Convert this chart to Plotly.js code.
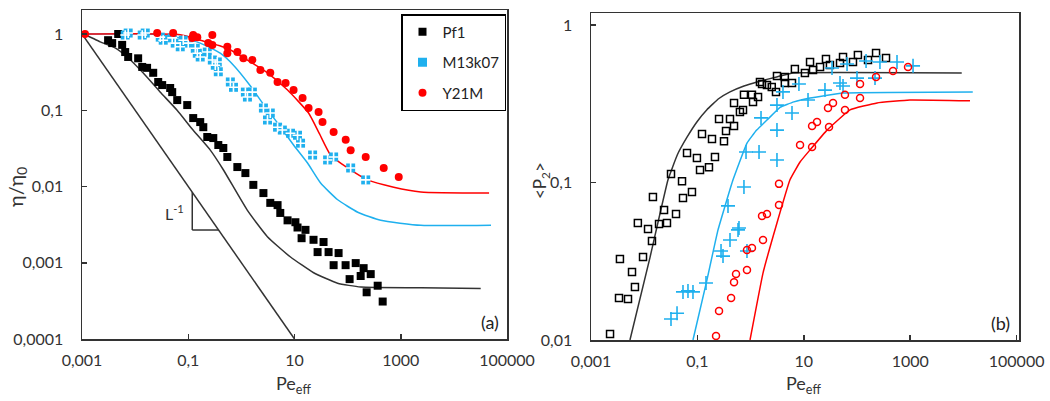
<!DOCTYPE html>
<html>
<head>
<meta charset="utf-8">
<script src="https://cdn.plot.ly/plotly-3.0.1.min.js"></script>
<style>html,body{margin:0;padding:0;background:#fff;}#chart{width:1050px;height:401px;}</style>
</head>
<body>
<div id="chart"></div>
<script>
// ---------- Panel (a): relative viscosity vs Pe_eff ----------
const pf1_pe  = [0.0031,0.0037,0.0048,0.0057,0.0065,0.0074,0.0114,0.0136,0.0168,0.0219,0.0272,0.0323,0.0457,0.0499,0.062,0.0957,0.124,0.168,0.192,0.228,0.296,0.368,0.457,0.544,0.84,1.19,1.68,2.6,3.5,4.8,5.4,7.4,10.4,11.4,13.6,16.1,22.8,27.2,35.2,43.8,54.5,67.6,91.6,109,142,176,200,228,272,368,457];
const pf1_eta = [0.83,0.76,1.0,0.72,0.58,0.50,0.48,0.37,0.36,0.31,0.235,0.214,0.196,0.173,0.136,0.117,0.079,0.070,0.060,0.0446,0.0432,0.035,0.032,0.0244,0.018,0.0150,0.0105,0.0082,0.0061,0.0057,0.0045,0.0036,0.0034,0.0029,0.0021,0.0027,0.0020,0.00138,0.00187,0.00138,0.00093,0.00134,0.00093,0.00061,0.00099,0.00067,0.00085,0.00041,0.00071,0.00050,0.00031];

const m13_pe  = [0.0065,0.0074,0.0136,0.0155,0.0297,0.0338,0.0499,0.0569,0.0707,0.0805,0.10,0.1356,0.148,0.168,0.228,0.284,0.352,0.323,0.368,0.62,0.71,1.19,1.30,1.61,2.6,3.1,3.5,4.8,5.9,8.4,11.4,13.0,21.9,42,54.5,114,219];
const m13_eta = [0.97,1.03,0.97,1.03,0.91,0.83,0.89,0.76,0.68,0.83,0.76,0.65,0.56,0.50,0.58,0.456,0.43,0.39,0.32,0.235,0.20,0.173,0.149,0.173,0.107,0.0745,0.092,0.060,0.055,0.050,0.047,0.037,0.0259,0.0223,0.0244,0.0175,0.0122];

const y21_pe  = [0.00114,0.026,0.052,0.124,0.119,0.148,0.284,0.238,0.284,0.544,0.544,0.84,1.09,1.61,2.28,3.5,4.8,6.8,9.6,14.2,18.4,28.4,33.7,54.5,92,114,219,478,916];
const y21_eta = [1.0,1.03,1.03,0.97,0.89,0.91,0.97,0.76,0.72,0.68,0.56,0.58,0.48,0.456,0.337,0.31,0.235,0.228,0.184,0.145,0.107,0.095,0.070,0.052,0.041,0.030,0.0244,0.0175,0.0133];

// model curves (a)
const fitPf1_pe  = [0.001,0.00115,0.0022,0.0042,0.0071,0.0141,0.0295,0.0617,0.123,0.26,0.457,1.29,3.09,8.3,22.9,64.6,178,2400,32000];
const fitPf1_eta = [1.0,0.98,0.79,0.66,0.50,0.31,0.174,0.10,0.055,0.030,0.0166,0.0049,0.0022,0.0012,0.00074,0.00054,0.00048,0.00047,0.00046];
const fitM13_pe  = [0.001,0.0192,0.0707,0.168,0.40,0.71,1.48,2.5,4.8,9.6,17.6,31,65,155,420,2380,50000];
const fitM13_eta = [1.0,1.0,0.89,0.76,0.56,0.39,0.208,0.124,0.068,0.035,0.0203,0.0111,0.0067,0.0046,0.0036,0.0031,0.0031];
const fitY21_pe  = [0.001,0.0707,0.168,0.544,1.30,3.1,7.4,18.4,29.6,47.7,100,238,738,2380,46000];
const fitY21_eta = [1.0,0.98,0.83,0.65,0.456,0.31,0.184,0.092,0.0489,0.0259,0.0175,0.0122,0.0098,0.0085,0.0082];

// slope -1 reference line (a)
const slope_pe  = [0.001,10];
const slope_eta = [1,0.0001];
const tri_pe = [0.119,0.372];   // triangle legs

// ---------- Panel (b): order parameter <P2> vs Pe_eff ----------
const pf1b_pe = [0.00228,0.00336,0.0035,0.00496,0.0059,0.0067,0.0076,0.0095,0.0118,0.014,0.0146,0.019,0.0236,0.0268,0.0319,0.0396,0.0514,0.0536,0.0638,0.079,0.098,0.112,0.122,0.165,0.188,0.214,0.255,0.316,0.345,0.41,0.488,0.488,0.63,0.72,0.75,1.06,1.11,1.38,1.5,1.64,2.03,2.5,3.0,3.13,4.4,4.4,6.0,6.8,10.5,13.1,14.9,20.2,26.1,31,47.9,54.6,84,104,161,228,351];
const pf1b_p2 = [0.0109,0.0185,0.0327,0.0182,0.027,0.0217,0.0553,0.0336,0.0507,0.0425,0.081,0.0545,0.067,0.0553,0.113,0.063,0.102,0.0797,0.154,0.087,0.143,0.12,0.203,0.125,0.189,0.145,0.253,0.183,0.212,0.253,0.228,0.32,0.28,0.289,0.36,0.36,0.324,0.349,0.435,0.422,0.416,0.404,0.376,0.474,0.428,0.468,0.428,0.526,0.496,0.582,0.518,0.541,0.608,0.557,0.574,0.626,0.582,0.645,0.6,0.664,0.617];

const m13b_pe = [0.0319,0.0414,0.0536,0.0665,0.0826,0.145,0.278,0.303,0.41,0.58,0.605,0.855,0.376,0.75,0.82,1.44,1.57,3.13,3.13,3.13,4.06,6.0,8.1,12,25,47.9,54.6,33.9,65,100,148,218,270,565,1130];
const m13b_p2 = [0.0136,0.0148,0.0202,0.0205,0.0202,0.023,0.0367,0.0341,0.0431,0.05,0.0514,0.0367,0.071,0.0936,0.156,0.156,0.257,0.215,0.139,0.31,0.376,0.276,0.422,0.334,0.386,0.428,0.41,0.533,0.565,0.46,0.59,0.46,0.582,0.582,0.55];

const y21b_pe = [0.224,0.255,0.43,0.488,0.532,0.855,0.855,1.06,1.71,1.64,2.03,3.42,3.42,8.5,14.3,14.3,17.7,29.8,28.5,35.4,59.4,59.4,114,114,228,475,910];
const y21b_p2 = [0.0106,0.0153,0.0185,0.0233,0.0262,0.0278,0.0373,0.0384,0.0431,0.0613,0.063,0.072,0.098,0.173,0.168,0.228,0.242,0.225,0.297,0.32,0.289,0.36,0.344,0.422,0.468,0.51,0.541];

const fitPf1b_pe = [0.0054,0.0129,0.028,0.042,0.0638,0.1,0.151,0.25,0.41,0.75,1.32,3.1,6.3,9300];
const fitPf1b_p2 = [0.01,0.0336,0.104,0.15,0.194,0.245,0.29,0.34,0.376,0.41,0.435,0.468,0.496,0.496];
const fitM13b_pe = [0.0826,0.151,0.244,0.467,0.855,1.3,2.03,3.57,6.5,13.1,54.6,15000];
const fitM13b_p2 = [0.01,0.024,0.050,0.104,0.178,0.215,0.249,0.30,0.325,0.344,0.37,0.376];
const fitY21b_pe = [0.975,1.71,3.13,5.5,8.5,13.1,27.3,73.8,238,990,13300];
const fitY21b_p2 = [0.01,0.0266,0.0553,0.104,0.135,0.161,0.215,0.289,0.32,0.334,0.33];

// ---------- tick labels ----------
const xTickVals = [0.001,0.1,10,1000,100000];
const xTickText = ['0,001','0,1','10','1000','100000'];
const yaTickVals = [0.0001,0.001,0.01,0.1,1];
const yaTickText = ['0,0001','0,001','0,01','0,1','1'];
const ybTickVals = [0.01,0.1,1];
const ybTickText = ['0,01','0,1','1'];

const BLACK = '#000000', BLUE = '#1fb0ee', RED = '#ff0000', DARK = '#333333';
const FONT = 'Lato, "Open Sans", sans-serif';

const traces = [
  // panel a lines
  {x: slope_pe, y: slope_eta, mode:'lines', line:{color:DARK,width:1.5}, showlegend:false, xaxis:'x', yaxis:'y', hoverinfo:'skip'},
  {x: fitPf1_pe, y: fitPf1_eta, mode:'lines', line:{color:DARK,width:1.5,shape:'spline',smoothing:0.5}, showlegend:false, xaxis:'x', yaxis:'y'},
  {x: fitM13_pe, y: fitM13_eta, mode:'lines', line:{color:BLUE,width:1.5,shape:'spline',smoothing:0.5}, showlegend:false, xaxis:'x', yaxis:'y'},
  {x: fitY21_pe, y: fitY21_eta, mode:'lines', line:{color:RED,width:1.5,shape:'spline',smoothing:0.5}, showlegend:false, xaxis:'x', yaxis:'y'},
  // panel a markers
  {x: pf1_pe, y: pf1_eta, mode:'markers', name:'Pf1', legendgroup:'g1', marker:{symbol:'square',size:8,color:BLACK}, xaxis:'x', yaxis:'y'},
  {x: m13_pe, y: m13_eta, mode:'markers', name:'M13k07', legendgroup:'g2', marker:{symbol:'square',size:9,color:BLUE}, xaxis:'x', yaxis:'y'},
  {x: m13_pe, y: m13_eta, mode:'markers', showlegend:false, legendgroup:'g2', marker:{symbol:'cross-thin',size:7,color:'#ffffff',line:{color:'#ffffff',width:1.6}}, xaxis:'x', yaxis:'y', hoverinfo:'skip'},
  {x: y21_pe, y: y21_eta, mode:'markers', name:'Y21M', legendgroup:'g3', marker:{symbol:'circle',size:8,color:RED}, xaxis:'x', yaxis:'y'},
  // panel b lines
  {x: fitPf1b_pe, y: fitPf1b_p2, mode:'lines', line:{color:DARK,width:1.5,shape:'spline',smoothing:0.3}, showlegend:false, xaxis:'x2', yaxis:'y2'},
  {x: fitM13b_pe, y: fitM13b_p2, mode:'lines', line:{color:BLUE,width:1.5,shape:'spline',smoothing:0.3}, showlegend:false, xaxis:'x2', yaxis:'y2'},
  {x: fitY21b_pe, y: fitY21b_p2, mode:'lines', line:{color:RED,width:1.5,shape:'spline',smoothing:0.3}, showlegend:false, xaxis:'x2', yaxis:'y2'},
  // panel b markers
  {x: pf1b_pe, y: pf1b_p2, mode:'markers', showlegend:false, marker:{symbol:'square-open',size:7,color:BLACK,line:{width:1.5}}, xaxis:'x2', yaxis:'y2'},
  {x: m13b_pe, y: m13b_p2, mode:'markers', showlegend:false, marker:{symbol:'cross-thin-open',size:10,color:BLUE,line:{color:BLUE,width:1.6}}, xaxis:'x2', yaxis:'y2'},
  {x: y21b_pe, y: y21b_p2, mode:'markers', showlegend:false, marker:{symbol:'circle-open',size:7,color:RED,line:{width:1.5}}, xaxis:'x2', yaxis:'y2'}
];

function axBase(extra){
  return Object.assign({
    type:'log', showgrid:false, zeroline:false, showline:true, mirror:true,
    linecolor:DARK, linewidth:1.5, ticks:'inside', ticklen:5, tickwidth:1.5, tickcolor:DARK,
    tickfont:{family:FONT,size:16,color:'#333333'}
  }, extra);
}

const W = 1050, H = 401;
const px = v => v / W, py = v => 1 - v / H;
function label(x, y, text, size, extra){
  return Object.assign({xref:'paper', yref:'paper', x:px(x), y:py(y), xanchor:'center', yanchor:'middle',
    text:text, showarrow:false, font:{family:FONT,size:size,color:'#333333'}}, extra || {});
}

const layout = {
  width: W, height: H,
  margin:{l:0,r:0,t:0,b:0},
  paper_bgcolor:'#ffffff', plot_bgcolor:'#ffffff',
  font:{family:FONT,color:'#333333'},
  xaxis: axBase({domain:[px(82),px(507)], range:[-3,5], tickvals:xTickVals, ticktext:xTickText, anchor:'y', ticklabelstandoff:6}),
  yaxis: axBase({domain:[1-339/H, 1-10/H], range:[-4,0.315], tickvals:yaTickVals, ticktext:yaTickText, anchor:'x', ticklabelstandoff:14}),
  xaxis2: axBase({domain:[px(591),px(1019)], range:[-3,5.045], tickvals:xTickVals, ticktext:xTickText, anchor:'y2', ticklabelstandoff:6}),
  yaxis2: axBase({domain:[1-340/H, 1-13/H], range:[-2,0.076], tickvals:ybTickVals, ticktext:ybTickText, anchor:'x2', ticklabelstandoff:14}),
  showlegend:true,
  legend:{x:px(506), xanchor:'right', y:py(14), yanchor:'top', bgcolor:'#ffffff', bordercolor:'#000000', borderwidth:1.5,
          font:{family:FONT,size:15,color:'#222222'}, traceorder:'grouped', tracegroupgap:8, itemwidth:30},
  shapes:[
    {type:'line', xref:'x', yref:'y', x0:tri_pe[0], x1:tri_pe[0], y0:0.001/tri_pe[0], y1:0.001/tri_pe[1], line:{color:DARK,width:1.5}},
    {type:'line', xref:'x', yref:'y', x0:tri_pe[0], x1:tri_pe[1], y0:0.001/tri_pe[1], y1:0.001/tri_pe[1], line:{color:DARK,width:1.5}}
  ],
  annotations:[
    label(293, 384, 'Pe<sub>eff</sub>', 18),
    label(803, 384, 'Pe<sub>eff</sub>', 18),
    label(17, 187, 'η/η<sub>0</sub>', 20, {textangle:-90}),
    label(541, 181, '&lt;P<sub>2</sub>&gt;', 17, {textangle:-90}),
    label(490, 322, '(a)', 18, {font:{family:FONT,size:18,color:'#222222'}}),
    label(1000, 323, '(b)', 18, {font:{family:FONT,size:18,color:'#222222'}}),
    label(174, 212, 'L<sup>-1</sup>', 16)
  ]
};

Plotly.newPlot('chart', traces, layout, {staticPlot:true, displayModeBar:false});
</script>
</body>
</html>
